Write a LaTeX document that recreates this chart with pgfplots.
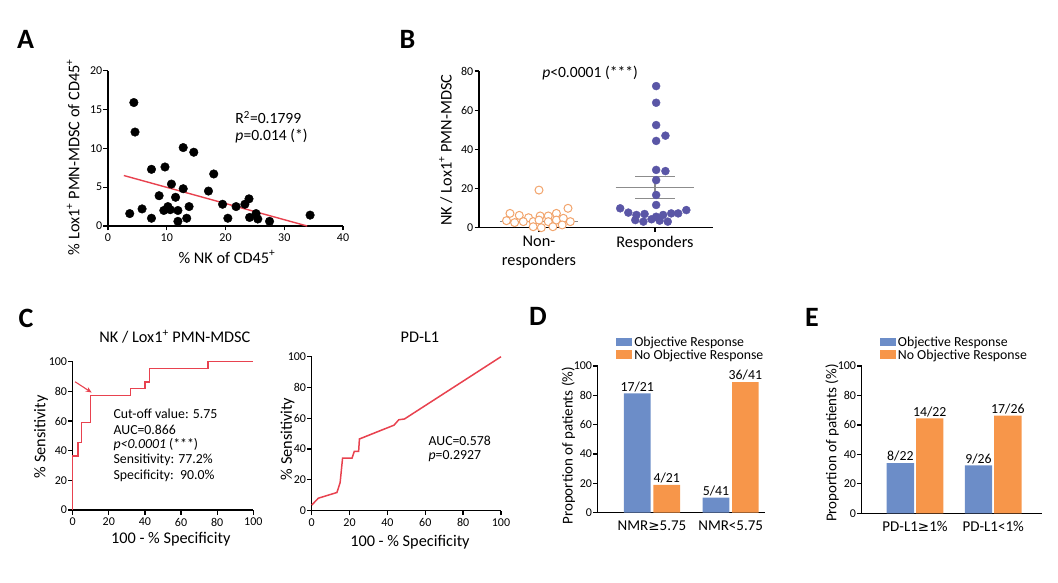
\documentclass[border=0pt]{standalone}
\usepackage{fontspec}
\setmainfont{Carlito}
\newfontfamily\dejavu{DejaVu Sans}
\usepackage{pgfplots}
\pgfplotsset{compat=1.18}
\usetikzlibrary{arrows.meta}
\definecolor{cred}{HTML}{E8424F}
\definecolor{cblue}{HTML}{6C8DC8}
\definecolor{corange}{HTML}{F7964A}
\definecolor{cpurple}{HTML}{5A56A6}
\definecolor{corl}{HTML}{F2A46C}
\definecolor{cgray}{HTML}{8C8C8C}
\newcommand\tks{\fontsize{12}{13}\selectfont}
\newcommand\lbs{\fontsize{16.3}{19.5}\selectfont}
\newcommand\lbd{\fontsize{15}{17}\selectfont}
\newcommand\txb{\fontsize{15.6}{18}\selectfont}
\newcommand\txs{\fontsize{13.8}{16}\selectfont}
\newcommand\lgs{\fontsize{13.8}{15.5}\selectfont}
\newcommand\pls{\bfseries\fontsize{28}{28}\selectfont}
\pgfplotsset{gp/.style={scale only axis, anchor=south west,
  axis x line*=bottom, axis y line*=left,
  axis line style={line width=1.5pt},
  tick style={line width=1.3pt,black}, tick align=outside, major tick length=4.5pt,
  tick label style={font=\tks}, label style={font=\lbs},
  yticklabel style={inner xsep=1pt},
  /pgf/number format/assume math mode=true, clip=false, enlargelimits=false}}
\begin{document}
\begin{tikzpicture}
\path[use as bounding box] (0,0) rectangle (1058pt,582pt);
\node[font=\pls] at (25.5pt,543pt) {A};
\node[font=\pls] at (407.5pt,543pt) {B};
\node[font=\pls] at (26pt,263.5pt) {C};
\node[font=\pls] at (538pt,266pt) {D};
\node[font=\pls] at (812pt,265pt) {E};
% ---------------- A
\begin{axis}[gp, at={(108pt,356pt)}, width=235pt, height=155.3pt,
  xmin=0,xmax=40,ymin=0,ymax=20, xtick={0,10,...,40}, ytick={0,5,...,20},
  xlabel={\% NK of CD45\textsuperscript{+}},
  ylabel={\% Lox1\textsuperscript{+} PMN-MDSC of CD45\textsuperscript{+}},
  xlabel style={at={(axis description cs:0.506,-0.2)}, anchor=center},
  ylabel style={at={(axis description cs:-0.148,0.444)}, anchor=center}]
\addplot[only marks, mark=*, mark size=4.3pt, black] table {
x y
4.4 15.9
4.6 12.1
3.7 1.6
5.8 2.2
7.4 7.3
7.4 1.0
9.7 7.6
8.7 3.9
9.5 2.0
10.2 2.5
10.6 2.1
10.8 5.4
11.5 3.7
11.9 2.0
11.9 0.6
12.8 4.8
12.8 10.1
13.4 1.0
13.8 2.5
14.6 9.5
17.1 4.5
18.0 6.7
19.5 2.8
20.4 1.0
21.8 2.5
23.3 2.8
24.0 3.5
24.1 1.1
25.2 1.6
25.5 0.9
27.5 0.6
34.4 1.4
};
\addplot[cred, line width=1.4pt] coordinates {(2.7,6.5) (33.9,0)};
\node[anchor=west, font=\txb] at (axis cs:21.1,14.0) {R\textsuperscript{2}=0.1799};
\node[anchor=west, font=\txb] at (axis cs:21.1,11.6) {\textit{p}=0.014 (*)};
\end{axis}
% ---------------- B
\begin{axis}[gp, at={(479pt,354.3pt)}, width=234pt, height=156.7pt,
  xmin=0.483,xmax=2.5,ymin=0,ymax=80, xtick={1,2}, ytick={0,20,...,80},
  xticklabels={{Non-\\responders},Responders}, xticklabel style={align=center, font=\lbs},
  ylabel={NK / Lox1\textsuperscript{+} PMN-MDSC},
  ylabel style={at={(axis description cs:-0.142,0.494)}, anchor=center}]
\addplot[cgray, line width=1.3pt] coordinates {(0.66,3.0) (1.34,3.0)};
\addplot[only marks, mark=*, mark size=4pt, mark options={fill=white, draw=corl, line width=1pt}] table {
x y
1.00 19.2
0.75 7.3
0.83 6.3
0.91 5.1
1.01 6.0
1.08 6.0
1.15 7.3
1.25 9.9
0.72 3.6
0.79 2.6
0.865 3.1
0.95 3.1
1.00 3.9
1.08 3.1
1.15 3.9
1.21 4.8
1.27 3.1
0.95 0.5
1.02 0.0
1.12 0.5
1.20 1.4
};
\addplot[cgray, line width=1.3pt] coordinates {(1.66,20.6) (2.34,20.6)};
\addplot[cgray, line width=1.3pt] coordinates {(1.83,26) (2.17,26)};
\addplot[cgray, line width=1.3pt] coordinates {(1.83,15) (2.17,15)};
\addplot[cgray, line width=1.3pt] coordinates {(2,15) (2,26)};
\addplot[only marks, mark=*, mark size=4pt, cpurple] table {
x y
2.01 72.3
2.01 63.8
2.01 52.4
2.09 47.0
2.01 44.3
2.01 29.5
2.09 28.9
2.01 24.3
2.01 16.7
2.01 11.6
1.70 9.9
2.27 9.0
1.77 7.7
1.84 6.5
1.91 7.0
2.07 6.5
2.14 7.3
2.20 7.3
1.83 3.9
1.90 3.1
1.97 4.3
2.04 3.6
2.11 3.1
2.01 5.6
};
\node[font=\txb] at (axis cs:1.44,79) {\textit{p}<0.0001 (***)};
\end{axis}
% ---------------- C left
\begin{axis}[gp, at={(72.7pt,72pt)}, width=180.6pt, height=148.3pt,
  xmin=0,xmax=100,ymin=0,ymax=100, xtick={0,20,...,100}, ytick={0,20,...,100},
  xlabel={100 - \% Specificity}, ylabel={\% Sensitivity},
  xlabel style={at={(axis description cs:0.543,-0.198)}, anchor=center},
  ylabel style={at={(axis description cs:-0.175,0.494)}, anchor=center}]
\addplot[cred, line width=1.5pt] coordinates {
(0,0) (0,36.4) (2.8,36.4) (2.8,45.5) (5,45.5) (5,59) (9.8,59) (9.8,77.3)
(32,77.3) (32,82) (40,82) (40,86.4) (42.5,86.4) (42.5,95.5) (75,95.5) (75,100) (100,100)};
\draw[cred, line width=1.1pt, -{Stealth[length=6pt,width=5pt]}] (axis cs:1.3,86.5) -- (axis cs:10.5,79.2);
\node[font=\lbs] at (rel axis cs:0.566,1.167) {NK / Lox1\textsuperscript{+} PMN-MDSC};
\node[anchor=west, font=\txs] at (axis cs:20.7,64.7) {Cut-off value: 5.75};
\node[anchor=west, font=\txs] at (axis cs:20.7,54.3) {AUC=0.866};
\node[anchor=west, font=\txs] at (axis cs:20.7,43.9) {\textit{p<0.0001} (***)};
\node[anchor=west, font=\txs] at (axis cs:20.7,33.5) {Sensitivity: 77.2\%};
\node[anchor=west, font=\txs] at (axis cs:20.7,23.1) {Specificity:\ \ 90.0\%};
\end{axis}
% ---------------- C right
\begin{axis}[gp, at={(311.7pt,71.5pt)}, width=189.3pt, height=153.8pt,
  xmin=0,xmax=100,ymin=0,ymax=100, xtick={0,20,...,100}, ytick={0,20,...,100},
  xlabel={100 - \% Specificity}, ylabel={\% Sensitivity},
  xlabel style={at={(axis description cs:0.519,-0.207)}, anchor=center},
  ylabel style={at={(axis description cs:-0.128,0.465)}, anchor=center}]
\addplot[cred, line width=1.5pt] coordinates {
(0,3.5) (3.5,8) (13.3,11.7) (15,18) (16.3,34) (21.3,34) (22.5,38.5) (24.8,38.5)
(25.2,46.5) (43.5,55.5) (46,59) (49,59.5) (100,100)};
\node[font=\lbs] at (rel axis cs:0.572,1.126) {PD-L1};
\node[anchor=west, font=\txs] at (axis cs:59.9,45.4) {AUC=0.578};
\node[anchor=west, font=\txs] at (axis cs:59.9,35.4) {\textit{p}=0.2927};
\end{axis}
% ---------------- D
\begin{axis}[gp, at={(597.7pt,69.3pt)}, width=167.3pt, height=146.7pt,
  xmin=0.31,xmax=2.436,ymin=0,ymax=100, ybar=2.7pt, bar width=26.7pt,
  xtick={1,2}, xticklabels={NMR{\dejavu\fontsize{13.5}{16}\selectfont ≥}5.75,NMR<5.75}, xtick style={draw=none},
  xticklabel style={font=\lbd},
  ytick={0,20,...,100}, ylabel={Proportion of patients (\%)},
  ylabel style={font=\lbd, at={(axis description cs:-0.175,0.456)}, anchor=center},
  nodes near coords, point meta=explicit symbolic,
  every node near coord/.append style={font=\txs, black, inner sep=1.5pt},
  legend style={at={(0.11,1.02)}, anchor=south west, draw=none, fill=none, font=\lgs,
    row sep=-2.5pt, inner sep=0pt, cells={anchor=west}},
  legend image code/.code={\fill[#1] (0pt,-3.5pt) rectangle (16pt,5pt);}]
\addplot[fill=cblue, draw=none] coordinates {(1,81.4) [17/21] (2,10.3) [5/41]};
\addplot[fill=corange, draw=none] coordinates {(1,19) [4/21] (2,89) [36/41]};
\legend{Objective Response, No Objective Response}
\end{axis}
% ---------------- E
\begin{axis}[gp, at={(861.7pt,68.7pt)}, width=180pt, height=147.3pt,
  xmin=0.318,xmax=2.62,ymin=0,ymax=100, ybar=2pt, bar width=27.3pt,
  xtick={1,2}, xticklabels={PD-L1{\dejavu\fontsize{13.5}{16}\selectfont ≥}1\%,PD-L1<1\%}, xtick style={draw=none},
  xticklabel style={font=\lbd},
  ytick={0,20,...,100}, ylabel={Proportion of patients (\%)},
  ylabel style={font=\lbd, at={(axis description cs:-0.165,0.477)}, anchor=center},
  nodes near coords, point meta=explicit symbolic,
  every node near coord/.append style={font=\txs, black, inner sep=1.5pt},
  legend style={at={(0.1,1.02)}, anchor=south west, draw=none, fill=none, font=\lgs,
    row sep=-2.5pt, inner sep=0pt, cells={anchor=west}},
  legend image code/.code={\fill[#1] (0pt,-3.5pt) rectangle (16pt,5pt);}]
\addplot[fill=cblue, draw=none] coordinates {(1,34) [8/22] (2,32.5) [9/26]};
\addplot[fill=corange, draw=none] coordinates {(1,64.5) [14/22] (2,66.3) [17/26]};
\legend{Objective Response, No Objective Response}
\end{axis}
\end{tikzpicture}
\end{document}
